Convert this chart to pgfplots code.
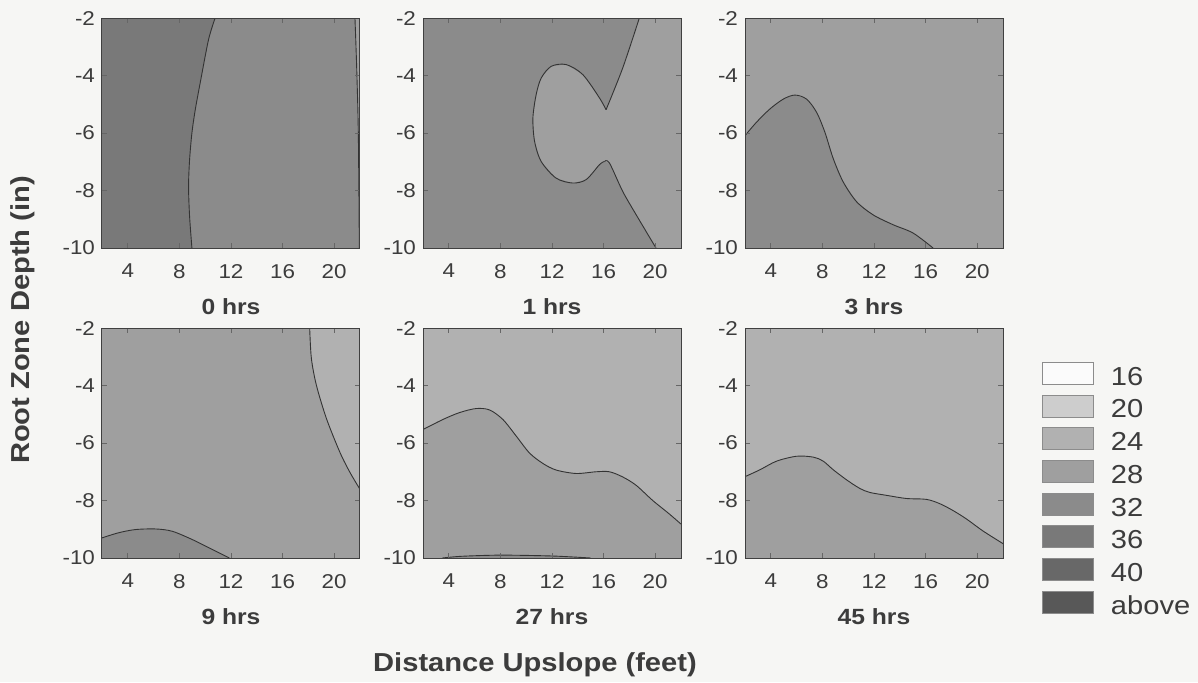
\documentclass[border=0pt]{standalone}
\usepackage{fontspec}
\setmainfont{Liberation Sans}[FakeStretch=1.12]
\usepackage{pgfplots}
\pgfplotsset{compat=1.18}
\definecolor{bgcol}{HTML}{F6F6F4}
\definecolor{c16}{HTML}{FBFBFB}
\definecolor{c20}{HTML}{CDCDCD}
\definecolor{c24}{HTML}{B1B1B1}
\definecolor{c28}{HTML}{9F9F9F}
\definecolor{c32}{HTML}{8B8B8B}
\definecolor{c36}{HTML}{797979}
\definecolor{c40}{HTML}{686868}
\definecolor{cab}{HTML}{585858}
\definecolor{txt}{HTML}{3C3C3C}

\pgfplotsset{
  panel/.style={
    width=129pt, height=115pt, scale only axis,
    xmin=2, xmax=22, ymin=-10, ymax=-2,
    xtick={4,8,12,16,20}, ytick={-10,-8,-6,-4,-2},
    axis line style={draw=black!75, line width=0.5pt},
    tick style={draw=black!60, line width=0.4pt},
    major tick length=2.5pt, tick align=inside,
    ticklabel style={font=\fontsize{10}{12}\selectfont, text=txt},
    xticklabel style={yshift=-4.5pt},
    /pgf/number format/assume math mode=true,
    axis on top,
    title style={at={(0.5,0)}, anchor=center, yshift=-35.5pt,
                 font=\fontsize{11}{13}\selectfont\bfseries, text=txt},
  },
  region/.style={draw=none, forget plot},
  cline/.style={draw=black!80, line width=0.45pt, forget plot, smooth, tension=0.5},
}

\begin{document}
\begin{tikzpicture}
\path[use as bounding box, fill=bgcol] (-51pt,-62pt) rectangle (548pt,279pt);

% 0 hrs
\begin{axis}[panel, at={(0pt,155pt)}, title={0 hrs}, axis background/.style={fill=c32}]
\addplot[region, fill=c36] coordinates {(2,-2) (10.77,-2) (10.26,-2.75) (9.61,-4.26) (9.23,-5.19) (8.97,-6.0) (8.79,-6.93) (8.71,-7.86) (8.79,-8.9) (8.97,-10) (2,-10)} -- cycle;
\addplot[cline] coordinates {(10.77,-2) (10.26,-2.75) (9.61,-4.26) (9.23,-5.19) (8.97,-6.0) (8.79,-6.93) (8.71,-7.86) (8.79,-8.9) (8.97,-10)};
\addplot[region, fill=c28] coordinates {(21.61,-2) (22,-2) (22,-10) (21.95,-10) (21.87,-6) (21.74,-3.68)} -- cycle;
\addplot[cline] coordinates {(21.61,-2) (21.74,-3.68) (21.87,-6) (21.95,-10)};
\end{axis}

% 1 hrs
\begin{axis}[panel, at={(160.5pt,155pt)}, title={1 hrs}, axis background/.style={fill=c32}]
\addplot[region, fill=c28] coordinates {(18.77,-2) (22,-2) (22,-10) (20.06,-10) (18.52,-8.84) (17.48,-8.03) (16.45,-7.04) (16.06,-6.99) (15.68,-7.10) (14.65,-7.62) (13.61,-7.74) (12.32,-7.57) (11.16,-6.99) (10.65,-6.29) (10.52,-5.48) (10.77,-4.67) (11.16,-4.09) (11.94,-3.68) (13.10,-3.62) (14.39,-3.97) (15.68,-4.78) (16.19,-5.19) (17.48,-3.74)} -- cycle;
\addplot[cline] coordinates {(18.77,-2) (17.48,-3.74) (16.19,-5.19)};
\addplot[cline] coordinates {(16.19,-5.19) (15.68,-4.78) (14.39,-3.97) (13.10,-3.62) (11.94,-3.68) (11.16,-4.09) (10.77,-4.67) (10.52,-5.48) (10.65,-6.29) (11.16,-6.99) (12.32,-7.57) (13.61,-7.74) (14.65,-7.62) (15.68,-7.10) (16.06,-6.99)};
\addplot[cline] coordinates {(16.06,-6.99) (16.45,-7.04) (17.48,-8.03) (18.52,-8.84) (20.06,-10)};
\end{axis}

% 3 hrs
\begin{axis}[panel, at={(321.5pt,155pt)}, title={3 hrs}, axis background/.style={fill=c28}]
\addplot[region, fill=c32] coordinates {(2,-10) (2,-6.09) (2.90,-5.62) (3.94,-5.16) (4.97,-4.82) (5.87,-4.68) (6.77,-4.82) (7.55,-5.28) (8.19,-5.97) (8.84,-6.89) (9.61,-7.70) (10.65,-8.39) (11.94,-8.85) (13.48,-9.19) (15.03,-9.48) (16.58,-10)} -- cycle;
\addplot[cline] coordinates {(2,-6.09) (2.90,-5.62) (3.94,-5.16) (4.97,-4.82) (5.87,-4.68) (6.77,-4.82) (7.55,-5.28) (8.19,-5.97) (8.84,-6.89) (9.61,-7.70) (10.65,-8.39) (11.94,-8.85) (13.48,-9.19) (15.03,-9.48) (16.58,-10)};
\end{axis}

% 9 hrs
\begin{axis}[panel, at={(0pt,0pt)}, title={9 hrs}, axis background/.style={fill=c28}]
\addplot[region, fill=c24] coordinates {(18.1,-2) (22,-2) (22,-7.61) (21.22,-7.02) (20.44,-6.32) (19.40,-5.15) (18.62,-3.99) (18.23,-3.05)} -- cycle;
\addplot[cline] coordinates {(18.1,-2) (18.23,-3.05) (18.62,-3.99) (19.40,-5.15) (20.44,-6.32) (21.22,-7.02) (22,-7.61)};
\addplot[region, fill=c32] coordinates {(2,-10) (2,-9.30) (3.3,-9.12) (4.6,-9.01) (6.16,-8.99) (7.45,-9.07) (9.01,-9.36) (10.31,-9.65) (11.87,-10)} -- cycle;
\addplot[cline] coordinates {(2,-9.30) (3.3,-9.12) (4.6,-9.01) (6.16,-8.99) (7.45,-9.07) (9.01,-9.36) (10.31,-9.65) (11.87,-10)};
\end{axis}

% 27 hrs
\begin{axis}[panel, at={(160.5pt,0pt)}, title={27 hrs}, axis background/.style={fill=c24}]
\addplot[region, fill=c28] coordinates {(2,-10) (2,-5.53) (3.55,-5.18) (4.84,-4.94) (6.13,-4.80) (7.16,-4.85) (8.19,-5.18) (9.23,-5.76) (10.26,-6.35) (11.29,-6.71) (12.32,-6.94) (13.87,-7.06) (15.42,-7.0) (16.45,-7.0) (17.48,-7.18) (18.52,-7.47) (19.81,-8.0) (21.1,-8.47) (22,-8.82) (22,-10)} -- cycle;
\addplot[cline] coordinates {(2,-5.53) (3.55,-5.18) (4.84,-4.94) (6.13,-4.80) (7.16,-4.85) (8.19,-5.18) (9.23,-5.76) (10.26,-6.35) (11.29,-6.71) (12.32,-6.94) (13.87,-7.06) (15.42,-7.0) (16.45,-7.0) (17.48,-7.18) (18.52,-7.47) (19.81,-8.0) (21.1,-8.47) (22,-8.82)};
\addplot[region, fill=c32] coordinates {(3.5,-10) (5,-9.94) (8,-9.9) (12,-9.93) (15,-10)} -- cycle;
\addplot[cline] coordinates {(3.5,-10) (5,-9.94) (8,-9.9) (12,-9.93) (15,-10)};
\end{axis}

% 45 hrs + legend
\begin{axis}[panel, at={(321.5pt,0pt)}, title={45 hrs}, axis background/.style={fill=c24},
  legend style={at={(1.127,0.872)}, anchor=north west, draw=none, fill=none,
    font=\fontsize{13}{15}\selectfont, text=txt, row sep=1.65pt, column sep=8pt,
    nodes={inner sep=0.5pt, text height=9pt, text depth=2.5pt}},
  legend cell align=left,
  legend image code/.code={\draw[#1, draw=black!45, line width=0.4pt] (0pt,-2.75pt) rectangle (25.5pt,8.25pt);}]
\addplot[region, fill=c28] coordinates {(2,-10) (2,-7.17) (3.16,-6.93) (4.45,-6.63) (6.0,-6.46) (7.29,-6.49) (8.06,-6.63) (8.84,-6.93) (9.87,-7.28) (10.9,-7.58) (11.68,-7.72) (12.97,-7.82) (14.52,-7.93) (16.06,-7.96) (17.1,-8.11) (18.13,-8.35) (19.16,-8.64) (20.45,-9.06) (22,-9.5) (22,-10)} -- cycle;
\addplot[cline] coordinates {(2,-7.17) (3.16,-6.93) (4.45,-6.63) (6.0,-6.46) (7.29,-6.49) (8.06,-6.63) (8.84,-6.93) (9.87,-7.28) (10.9,-7.58) (11.68,-7.72) (12.97,-7.82) (14.52,-7.93) (16.06,-7.96) (17.1,-8.11) (18.13,-8.35) (19.16,-8.64) (20.45,-9.06) (22,-9.5)};
\addlegendimage{fill=c16}\addlegendentry{16}
\addlegendimage{fill=c20}\addlegendentry{20}
\addlegendimage{fill=c24}\addlegendentry{24}
\addlegendimage{fill=c28}\addlegendentry{28}
\addlegendimage{fill=c32}\addlegendentry{32}
\addlegendimage{fill=c36}\addlegendentry{36}
\addlegendimage{fill=c40}\addlegendentry{40}
\addlegendimage{fill=cab}\addlegendentry{above}
\end{axis}

\node[rotate=90, font=\fontsize{13}{15}\selectfont\bfseries, text=txt] at (-39.5pt,119pt) {Root Zone Depth (in)};
\node[font=\fontsize{13}{15}\selectfont\bfseries, text=txt] at (216.5pt,-53.5pt) {Distance Upslope (feet)};
\end{tikzpicture}
\end{document}
